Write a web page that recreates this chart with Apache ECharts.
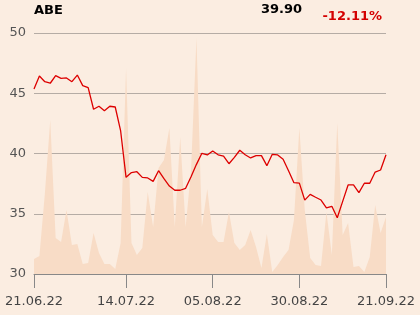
<!DOCTYPE html>
<html>
<head>
<meta charset="utf-8">
<script src="https://cdn.jsdelivr.net/npm/echarts@6/dist/echarts.min.js"></script>
<style>
html,body{margin:0;padding:0;background:#fbede1;}
#c{width:420px;height:315px;}
</style>
</head>
<body>
<div id="c"></div>
<script>
var dates = ["21.06.22","22.06.22","23.06.22","24.06.22","27.06.22","28.06.22","29.06.22","30.06.22","01.07.22","04.07.22","05.07.22","06.07.22","07.07.22","08.07.22","11.07.22","12.07.22","13.07.22","14.07.22","15.07.22","18.07.22","19.07.22","20.07.22","21.07.22","22.07.22","25.07.22","26.07.22","27.07.22","28.07.22","29.07.22","01.08.22","02.08.22","03.08.22","04.08.22","05.08.22","08.08.22","09.08.22","10.08.22","11.08.22","12.08.22","15.08.22","16.08.22","17.08.22","18.08.22","19.08.22","22.08.22","23.08.22","24.08.22","25.08.22","26.08.22","30.08.22","31.08.22","01.09.22","02.09.22","05.09.22","06.09.22","07.09.22","08.09.22","09.09.22","12.09.22","13.09.22","14.09.22","15.09.22","16.09.22","19.09.22","20.09.22","21.09.22"];
var prices = [45.35,46.43,45.96,45.83,46.46,46.24,46.27,45.96,46.51,45.63,45.46,43.67,43.92,43.55,43.92,43.86,41.87,38.02,38.42,38.49,38.02,37.97,37.69,38.57,37.91,37.30,36.95,36.95,37.11,38.07,39.10,40.02,39.88,40.21,39.89,39.79,39.15,39.68,40.27,39.90,39.63,39.82,39.82,38.99,39.93,39.88,39.52,38.57,37.58,37.54,36.13,36.61,36.37,36.14,35.48,35.62,34.67,36.03,37.39,37.39,36.75,37.53,37.53,38.46,38.63,39.90];
var volumes = [15,18,80,154,36,32,64,29,30,10,11,41,21,10,10,5,31,206,31,19,26,82,47,106,114,146,47,137,47,104,236,47,85,39,32,32,62,31,24,29,44,27,6,40,2,9,17,24,54,146,64,16,9,8,62,19,151,39,51,7,8,2,17,69,41,57];
var tickIdx = [0,17,33,49,65];
var ticker = "ABE";
var lastPrice = "39.90";
var change = "-12.11%";

var chart = echarts.init(document.getElementById('c'), null, {renderer:'canvas'});
var font = 'DejaVu Sans';
chart.setOption({
  backgroundColor:'#fbede1',
  animation:false,
  grid:{left:34,right:34,top:33,bottom:41},
  graphic:[
    {type:'text',left:34,top:4,style:{text:ticker,font:'bold 13px "DejaVu Sans"',fill:'#000'}},
    {type:'text',right:118,top:3,style:{text:lastPrice,font:'bold 13px "DejaVu Sans"',fill:'#000'}},
    {type:'text',right:38,top:10,style:{text:change,font:'bold 13px "DejaVu Sans"',fill:'#d40000'}}
  ],
  xAxis:{
    type:'category',data:dates,boundaryGap:false,
    axisLine:{lineStyle:{color:'#888',width:1}},
    axisTick:{length:14,lineStyle:{color:'#888'},interval:function(i){return tickIdx.indexOf(i)>=0;}},
    axisLabel:{interval:function(i){return tickIdx.indexOf(i)>=0;},margin:21,fontFamily:font,fontSize:13,color:'#444',showMinLabel:true,showMaxLabel:true},
    splitLine:{show:false}
  },
  yAxis:[
    {type:'value',min:30,max:50,interval:5,
     axisLine:{show:false},axisTick:{show:false},
     axisLabel:{fontFamily:font,fontSize:13,color:'#555',margin:8},
     splitLine:{lineStyle:{color:'#b5aca5',width:1}}},
    {type:'value',min:0,max:241,show:false,splitLine:{show:false}}
  ],
  series:[
    {type:'line',data:volumes,yAxisIndex:1,symbol:'none',lineStyle:{width:0},
     areaStyle:{color:'#f8dcc6',opacity:1},z:1,silent:true},
    {type:'line',data:prices,symbol:'none',lineStyle:{color:'#dd0000',width:1.3},z:3}
  ]
});
</script>
</body>
</html>
